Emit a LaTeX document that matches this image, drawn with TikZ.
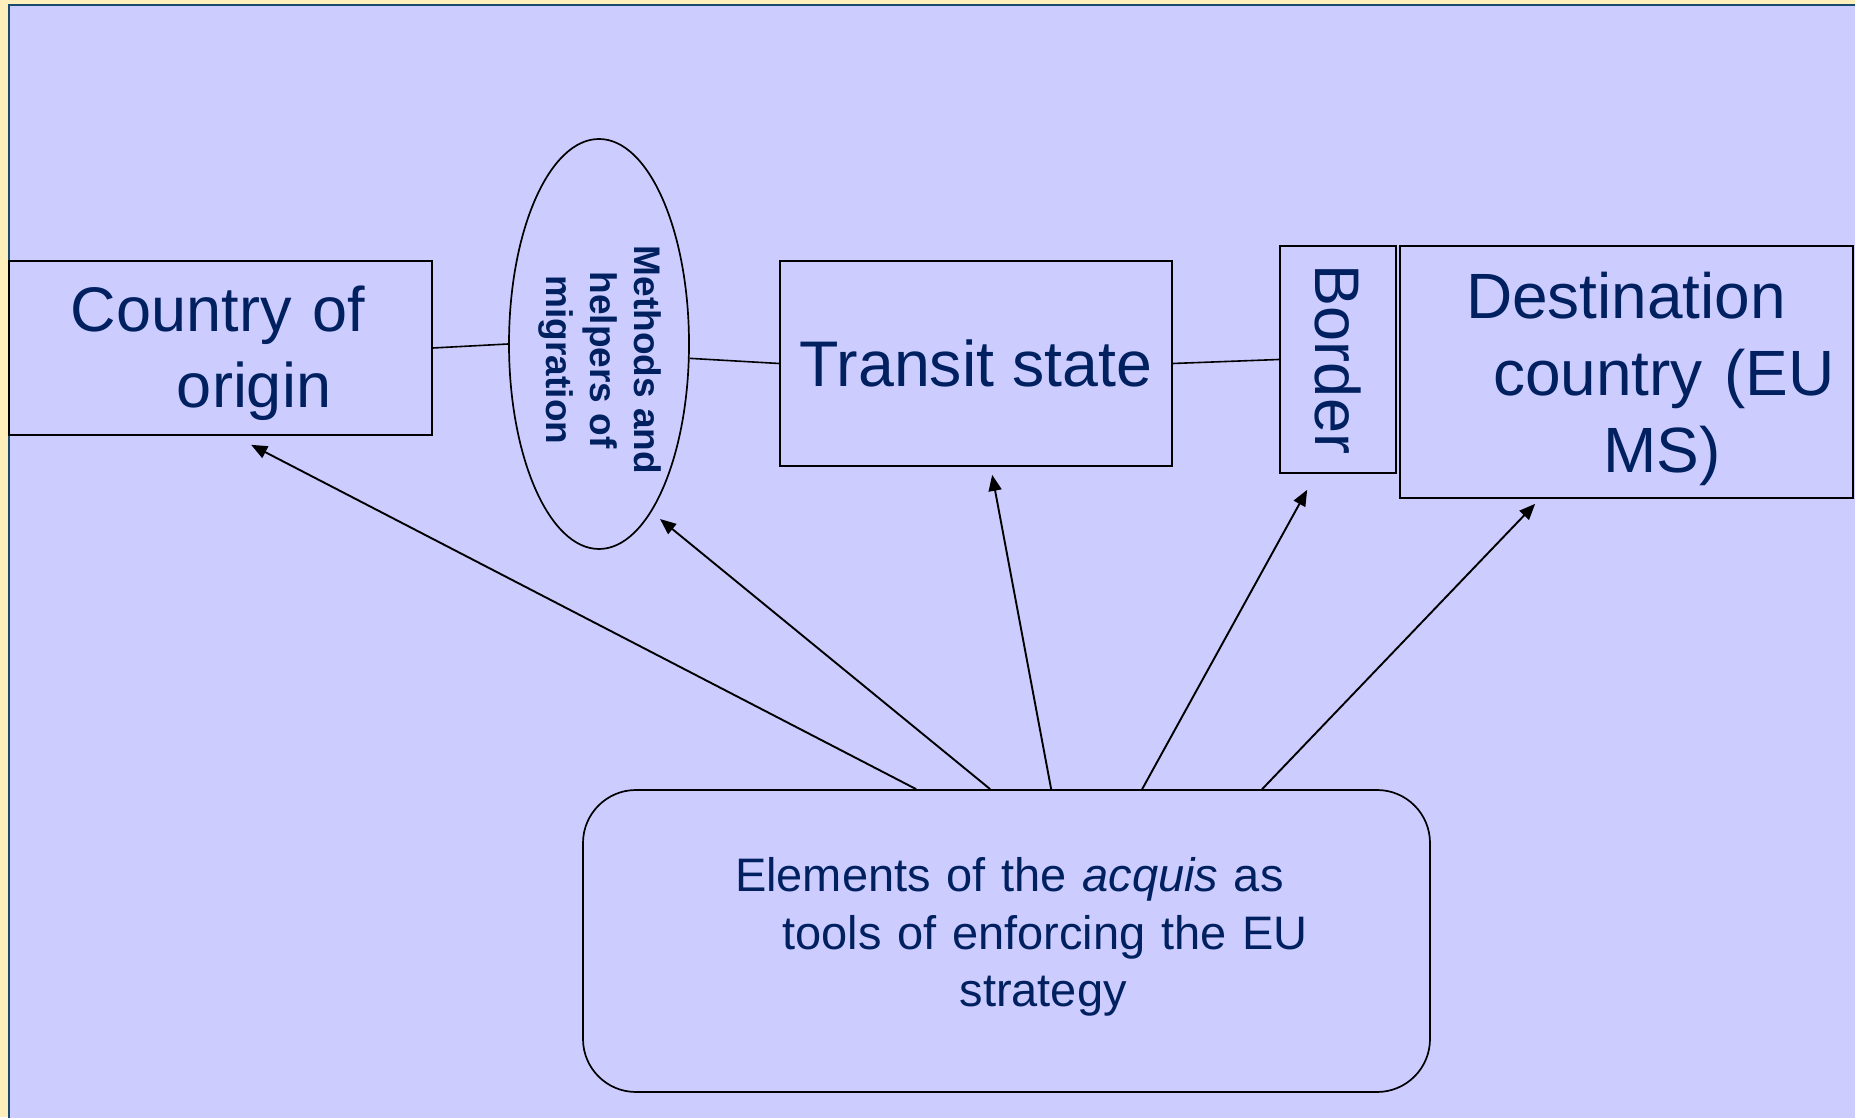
\documentclass[tikz,border=0pt]{standalone}
\usepackage{fontspec}
\setmainfont{Liberation Sans}
\usetikzlibrary{shapes.geometric,arrows.meta,calc}
\definecolor{bgyellow}{RGB}{255,240,187}
\definecolor{lav}{RGB}{204,204,255}
\definecolor{framec}{RGB}{25,75,110}
\definecolor{navy}{RGB}{0,32,96}
\begin{document}
\begin{tikzpicture}[x=1pt,y=1pt,
  box/.style={draw=black, line width=1.7pt, text=navy, inner sep=0pt},
  link/.style={draw=black, line width=1.6pt},
  arr/.style={draw=black, line width=1.9pt, -{Triangle[length=16pt,width=13pt]}},
  big/.style={font=\fontsize{63}{76}\selectfont}]
\useasboundingbox (0,0) rectangle (1855,1117);
\fill[bgyellow] (0,0) rectangle (1855,1117);
\begin{scope}
\clip (0,0) rectangle (1855,1117);
\filldraw[fill=lav, draw=framec, line width=2pt] (9,-20) rectangle (1880,1112);
\end{scope}

\node[box, big, minimum width=423pt, minimum height=174pt, text width=423pt, align=left] (cty) at (220.5,769)
  {\hspace*{62pt}\rule{0pt}{56pt}Country of\\\hspace*{168pt}origin};
\node[box, ellipse, inner sep=-4pt, minimum width=180pt, minimum height=410pt, font=\bfseries\fontsize{37}{44}\selectfont] (ell) at (599,773)
  {\rotatebox{-90}{\hspace*{32pt}\begin{tabular}{@{}c@{}}Methods and\\helpers of\\migration\end{tabular}}};
\node[box, font=\fontsize{64.5}{76}\selectfont, minimum width=392pt, minimum height=205pt] (trn) at (976,753.5) {Transit state};
\node[box, big, minimum width=116pt, minimum height=227pt] (brd) at (1338,757.5) {\rotatebox{-90}{Border}};
\node[box, font=\fontsize{64}{77}\selectfont, minimum width=453pt, minimum height=252pt, text width=453pt, align=left] (dst) at (1626.5,745)
  {\hspace*{66pt}\rule{0pt}{60pt}Destination\\\hspace*{93pt}country (EU\\\hspace*{203pt}MS)};
\node[box, rounded corners=53pt, minimum width=847pt, minimum height=302pt, text width=847pt, align=left,
  font=\fontsize{47}{57.5}\selectfont] (bot) at (1006.5,176)
  {\hspace*{152pt}Elements of the \textit{acquis} as\\\hspace*{199.5pt}tools of enforcing the EU\\\hspace*{376.5pt}strategy\rule[-18pt]{0pt}{18pt}};

\draw[link] (cty.east) -- (ell.west);
\draw[link] (ell.-9) -- (trn.west);
\draw[link] (trn.east) -- (brd.west);

\coordinate (s1) at ($(bot.north west)+(334,0)$);
\coordinate (s2) at ($(bot.north west)+(408,0)$);
\coordinate (s3) at ($(bot.north west)+(469,0)$);
\coordinate (s4) at ($(bot.north west)+(560,0)$);
\coordinate (s5) at ($(bot.north west)+(680,0)$);
\coordinate (t1) at ($(cty.south west)+(243,-9)$);
\coordinate (t2) at ($(ell.center)+(61,-175)$);
\coordinate (t3) at ($(trn.south west)+(213,-8)$);
\coordinate (t4) at ($(brd.south west)+(28,-16)$);
\coordinate (t5) at ($(dst.south west)+(136,-5)$);
\draw[arr] (s1) -- (t1);
\draw[arr] (s2) -- (t2);
\draw[arr] (s3) -- (t3);
\draw[arr] (s4) -- (t4);
\draw[arr] (s5) -- (t5);
\end{tikzpicture}
\end{document}
